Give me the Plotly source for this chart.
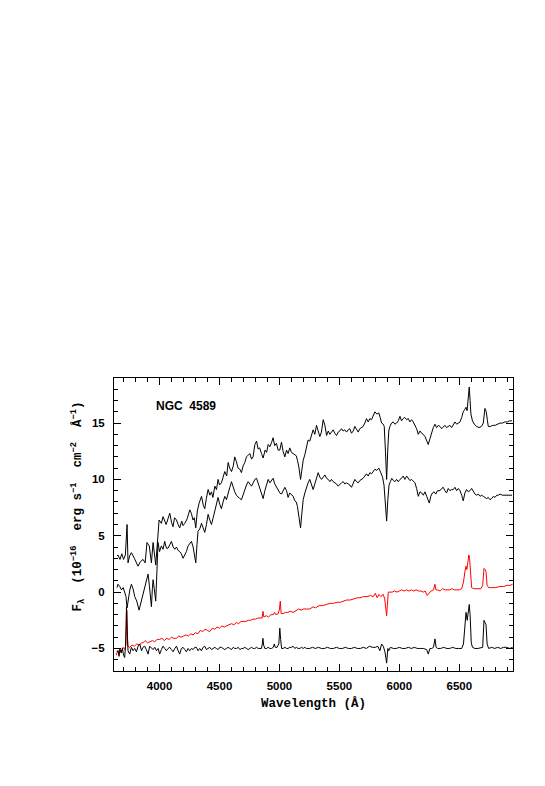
import plotly.graph_objects as go

# upper spectrum (offset)
wave_a = [3645, 3653, 3670, 3685, 3700, 3715, 3729, 3737, 3750, 3765,
          3790, 3820, 3840, 3862, 3880, 3895, 3914, 3932, 3946, 3958,
          3968, 3985, 3996, 4015, 4029, 4055, 4070, 4085, 4100, 4112,
          4125, 4141, 4155, 4168, 4185, 4196, 4210, 4230, 4252, 4265,
          4279, 4290, 4302, 4315, 4330, 4350, 4365, 4377, 4390, 4405,
          4420, 4433, 4445, 4461, 4475, 4488, 4500, 4516, 4530, 4544,
          4560, 4572, 4585, 4600, 4615, 4627, 4640, 4655, 4670, 4683,
          4697, 4711, 4725, 4739, 4753, 4767, 4780, 4795, 4809, 4822,
          4835, 4850, 4864, 4880, 4893, 4906, 4920, 4935, 4947, 4960,
          4975, 4989, 5003, 5017, 5030, 5045, 5059, 5072, 5086, 5100,
          5114, 5128, 5140, 5150, 5162, 5176, 5187, 5198, 5212, 5225,
          5239, 5253, 5267, 5281, 5295, 5309, 5323, 5337, 5350, 5365,
          5379, 5393, 5407, 5420, 5434, 5448, 5462, 5476, 5490, 5504,
          5518, 5531, 5545, 5560, 5573, 5587, 5601, 5615, 5629, 5643,
          5657, 5670, 5684, 5698, 5712, 5726, 5740, 5754, 5768, 5782,
          5796, 5812, 5829, 5840, 5852, 5866, 5874, 5884, 5894, 5904,
          5912, 5921, 5935, 5949, 5963, 5977, 5991, 6005, 6018, 6032,
          6045, 6061, 6075, 6088, 6102, 6116, 6130, 6144, 6158, 6172,
          6186, 6200, 6214, 6228, 6241, 6255, 6269, 6283, 6297, 6311,
          6325, 6339, 6353, 6366, 6380, 6394, 6408, 6422, 6436, 6450,
          6464, 6478, 6492, 6506, 6520, 6533, 6545, 6556, 6565, 6575,
          6583, 6590, 6597, 6610, 6625, 6645, 6665, 6685, 6700, 6714,
          6725, 6735, 6742, 6760, 6780, 6800, 6820, 6839, 6860, 6880,
          6900, 6920, 6940]
flux_a = [3.2, 3.3, 2.9, 3.4, 2.9, 3.3, 6.0, 2.6, 3.2, 3.5,
          3.0, 2.3, 2.7, 2.9, 2.6, 4.4, 4.1, 2.6, 4.4, 3.3,
          2.4, 4.8, 6.4, 6.1, 6.7, 6.0, 6.6, 7.0, 6.2, 5.8,
          6.6, 6.4, 6.0, 5.7, 6.3, 5.9, 6.1, 6.5, 7.3, 7.0,
          6.4, 6.6, 5.7, 7.2, 7.9, 8.5, 7.7, 7.4, 8.3, 9.1,
          8.6, 8.9, 8.4, 9.4, 9.1, 10.0, 9.5, 9.7, 10.2, 10.7,
          10.3, 11.5, 11.0, 10.7, 11.2, 12.0, 11.6, 11.0, 10.9, 10.6,
          11.2, 11.5, 12.0, 12.2, 12.3, 11.8, 12.0, 13.1, 13.4, 12.7,
          12.8, 12.3, 11.9, 12.6, 12.4, 13.1, 12.9, 13.3, 13.7, 13.0,
          13.2, 12.6, 12.6, 13.3, 12.5, 12.0, 12.6, 12.3, 12.8, 12.4,
          12.3, 12.2, 12.1, 11.7, 11.1, 10.0, 11.0, 11.7, 12.2, 12.9,
          13.5, 13.4, 13.9, 14.4, 14.0, 14.8, 14.3, 13.8, 14.2, 15.3,
          14.8, 13.9, 14.3, 14.0, 14.2, 14.4, 14.1, 13.9, 14.2, 14.3,
          14.5, 14.3, 14.4, 14.2, 14.4, 14.5, 14.1, 14.3, 14.7, 14.4,
          14.2, 14.5, 14.6, 14.7, 15.0, 15.4, 15.1, 15.4, 15.3, 15.6,
          16.0, 15.8, 15.9, 15.5, 15.0, 14.9, 14.7, 12.5, 10.0, 12.8,
          14.3, 14.7, 15.0, 15.1, 14.9, 15.0, 15.2, 15.6, 15.2, 15.4,
          15.5, 15.3, 15.4, 15.1, 15.3, 15.1, 14.8, 14.5, 14.0, 14.3,
          14.1, 14.0, 13.8, 13.5, 13.1, 13.6, 14.2, 14.6, 14.9, 14.6,
          14.8, 14.7, 14.5, 14.7, 14.8, 14.6, 14.7, 14.8, 14.6, 14.9,
          15.1, 14.9, 15.0, 15.1, 15.5, 16.0, 16.2, 16.4, 16.1, 17.0,
          18.2, 17.0, 15.8, 15.2, 14.9, 14.7, 14.6, 14.7, 15.0, 16.3,
          16.0, 15.2, 14.7, 14.7, 14.8, 14.8, 14.9, 15.0, 15.0, 15.1,
          15.1, 15.2, 15.2]

# second spectrum
wave_b = [3645, 3653, 3668, 3682, 3697, 3710, 3720, 3729, 3740, 3752,
          3765, 3779, 3793, 3810, 3829, 3845, 3862, 3876, 3890, 3904,
          3915, 3925, 3932, 3940, 3946, 3957, 3968, 3978, 3987, 4000,
          4015, 4029, 4043, 4057, 4071, 4085, 4099, 4113, 4127, 4141,
          4155, 4168, 4182, 4196, 4210, 4224, 4238, 4252, 4266, 4280,
          4290, 4302, 4312, 4321, 4335, 4350, 4363, 4377, 4391, 4405,
          4419, 4433, 4447, 4461, 4475, 4488, 4502, 4516, 4530, 4544,
          4558, 4572, 4586, 4600, 4614, 4627, 4641, 4655, 4669, 4683,
          4697, 4711, 4725, 4739, 4753, 4767, 4781, 4795, 4809, 4822,
          4836, 4850, 4864, 4878, 4892, 4906, 4920, 4934, 4947, 4961,
          4975, 4989, 5003, 5017, 5031, 5045, 5059, 5072, 5086, 5100,
          5114, 5128, 5140, 5150, 5162, 5176, 5187, 5198, 5212, 5225,
          5239, 5253, 5267, 5281, 5295, 5309, 5323, 5337, 5351, 5365,
          5379, 5393, 5407, 5421, 5434, 5448, 5462, 5476, 5490, 5504,
          5518, 5532, 5545, 5559, 5573, 5587, 5601, 5615, 5629, 5643,
          5657, 5670, 5684, 5698, 5712, 5726, 5740, 5754, 5768, 5782,
          5796, 5812, 5829, 5845, 5860, 5872, 5884, 5894, 5904, 5914,
          5925, 5937, 5950, 5963, 5977, 5991, 6005, 6018, 6032, 6046,
          6061, 6075, 6088, 6102, 6116, 6130, 6144, 6158, 6172, 6186,
          6200, 6214, 6228, 6241, 6250, 6262, 6276, 6290, 6304, 6318,
          6339, 6353, 6366, 6380, 6394, 6408, 6422, 6436, 6450, 6464,
          6478, 6492, 6506, 6520, 6533, 6547, 6561, 6575, 6589, 6603,
          6617, 6631, 6645, 6659, 6673, 6687, 6700, 6714, 6728, 6742,
          6756, 6770, 6784, 6798, 6812, 6826, 6840, 6860, 6880, 6900,
          6920, 6940]
flux_b = [0.4, 0.7, 0.5, 0.2, 0.4, 0.0, -0.4, -1.4, -0.6, 0.2,
          0.7, 0.3, -0.4, -0.8, -1.6, -0.9, -0.3, 0.2, 0.9, 1.6,
          0.6, -0.8, -1.3, 0.3, 1.1, 0.2, -0.8, 1.8, 4.4, 3.6,
          4.1, 3.8, 4.5, 3.9, 3.9, 4.2, 4.5, 4.0, 3.8, 4.0,
          3.7, 3.6, 3.4, 3.0, 3.3, 3.6, 4.1, 4.3, 4.5, 4.0,
          3.3, 2.6, 4.2, 5.4, 5.6, 6.1, 5.7, 5.3, 6.0, 6.9,
          6.4, 6.0, 6.6, 7.3, 7.8, 8.4, 7.8, 7.4, 8.0, 8.5,
          8.2, 8.9, 9.3, 9.8, 9.3, 8.9, 8.6, 8.4, 8.3, 8.2,
          8.7, 9.1, 9.5, 9.8, 9.6, 9.4, 9.7, 10.0, 10.1, 9.7,
          9.3, 8.8, 8.3, 9.0, 9.5, 10.0, 9.7, 9.9, 10.1, 9.6,
          9.3, 9.1, 8.8, 8.7, 9.0, 9.3, 9.0, 8.4, 8.8, 8.6,
          8.5, 8.1, 8.0, 7.6, 6.8, 5.7, 7.0, 8.2, 8.8, 9.3,
          9.7, 10.0, 9.6, 9.1, 9.6, 10.2, 10.6, 10.2, 10.0, 10.2,
          10.4, 10.1, 10.0, 9.8, 10.0, 9.8, 9.7, 9.6, 9.4, 9.6,
          9.7, 9.8, 9.6, 9.7, 9.6, 9.5, 9.3, 9.7, 10.0, 9.8,
          9.7, 9.9, 10.0, 10.1, 10.3, 10.5, 10.3, 10.6, 10.5, 10.7,
          10.9, 10.8, 11.0, 10.6, 10.2, 9.5, 8.0, 6.3, 8.2, 9.5,
          9.8, 10.1, 9.9, 9.8, 10.0, 9.8, 10.0, 10.1, 10.3, 10.0,
          10.3, 10.1, 9.9, 10.0, 9.8, 9.7, 9.2, 8.5, 8.9, 8.8,
          8.6, 8.9, 8.5, 8.2, 7.9, 8.5, 8.8, 8.9, 8.7, 9.0,
          9.0, 9.2, 9.3, 9.0, 8.8, 9.2, 9.0, 9.1, 9.1, 9.3,
          9.0, 9.2, 9.0, 8.6, 8.1, 8.8, 9.1, 8.9, 9.0, 9.2,
          8.9, 8.7, 8.6, 8.7, 8.5, 8.6, 8.5, 8.4, 8.3, 8.4,
          8.2, 8.3, 8.5, 8.4, 8.6, 8.6, 8.7, 8.6, 8.6, 8.6,
          8.6, 8.6]

# red spectrum
wave_c = [3640, 3650, 3660, 3668, 3680, 3695, 3710, 3720, 3727, 3735,
          3751, 3770, 3790, 3810, 3830, 3850, 3862, 3880, 3900, 3920,
          3940, 3960, 3980, 4001, 4020, 4040, 4060, 4080, 4100, 4120,
          4141, 4160, 4180, 4200, 4220, 4240, 4260, 4279, 4300, 4320,
          4340, 4360, 4380, 4400, 4419, 4440, 4460, 4480, 4500, 4520,
          4540, 4558, 4580, 4600, 4620, 4640, 4660, 4680, 4697, 4720,
          4740, 4760, 4780, 4800, 4820, 4840, 4855, 4862, 4870, 4890,
          4910, 4930, 4950, 4959, 4970, 4990, 5000, 5007, 5014, 5030,
          5050, 5070, 5090, 5114, 5140, 5160, 5180, 5200, 5225, 5253,
          5280, 5300, 5330, 5360, 5390, 5420, 5450, 5480, 5510, 5531,
          5560, 5590, 5620, 5650, 5671, 5700, 5730, 5760, 5782, 5800,
          5815, 5830, 5845, 5865, 5878, 5888, 5894, 5900, 5908, 5920,
          5940, 5960, 5980, 6000, 6020, 6040, 6060, 6080, 6100, 6120,
          6140, 6160, 6180, 6200, 6215, 6232, 6245, 6265, 6285, 6297,
          6305, 6320, 6340, 6360, 6380, 6400, 6420, 6440, 6460, 6480,
          6500, 6520, 6535, 6548, 6556, 6563, 6570, 6580, 6586, 6595,
          6603, 6620, 6640, 6660, 6680, 6695, 6706, 6715, 6723, 6732,
          6745, 6770, 6800, 6839, 6870, 6900, 6925, 6945]
flux_c = [-5.6, -5.2, -5.4, -5.0, -5.3, -4.9, -5.1, -4.6, -1.6, -4.8,
          -4.9, -4.7, -4.8, -4.6, -4.7, -4.5, -4.5, -4.3, -4.5, -4.4,
          -4.3, -4.4, -4.2, -4.2, -4.1, -4.3, -4.1, -4.2, -4.0, -4.1,
          -4.1, -3.9, -4.0, -3.9, -3.8, -3.9, -3.7, -3.8, -3.6, -3.7,
          -3.4, -3.5, -3.3, -3.4, -3.5, -3.2, -3.3, -3.1, -3.2, -3.0,
          -3.1, -3.0, -2.9, -2.8, -2.9, -2.7, -2.8, -2.6, -2.6, -2.6,
          -2.5, -2.5, -2.4, -2.4, -2.3, -2.3, -2.3, -1.7, -2.2, -2.1,
          -2.2, -2.0, -2.0, -1.8, -2.0, -1.9, -1.5, -0.8, -1.9, -1.9,
          -1.8, -1.8, -1.7, -1.8, -1.6, -1.5, -1.6, -1.5, -1.5, -1.5,
          -1.3, -1.4, -1.2, -1.2, -1.1, -1.0, -1.0, -0.9, -0.9, -0.8,
          -0.7, -0.7, -0.6, -0.5, -0.5, -0.4, -0.4, -0.3, -0.4, -0.1,
          -0.5, -0.2, -0.4, -0.2, -0.6, -2.0, -2.1, -1.2, 0.0, 0.0,
          0.0, 0.1, 0.0, 0.1, 0.2, 0.1, 0.2, 0.1, 0.2, 0.1,
          0.2, 0.1, 0.1, 0.0, 0.1, -0.3, -0.1, 0.1, 0.2, 0.7,
          0.2, 0.2, 0.1, 0.3, 0.2, 0.2, 0.2, 0.3, 0.2, 0.2,
          0.2, 0.3, 0.9, 1.9, 2.3, 2.0, 2.6, 3.3, 3.0, 1.0,
          0.4, 0.3, 0.3, 0.3, 0.3, 0.6, 2.1, 2.0, 1.8, 0.6,
          0.4, 0.4, 0.4, 0.5, 0.5, 0.6, 0.6, 0.7]

# lower (emission-line) spectrum
wave_d = [3645, 3653, 3662, 3670, 3680, 3690, 3700, 3709, 3716, 3724,
          3730, 3737, 3751, 3765, 3779, 3793, 3807, 3821, 3835, 3849,
          3862, 3876, 3890, 3904, 3918, 3932, 3946, 3960, 3974, 3988,
          4001, 4015, 4029, 4043, 4057, 4071, 4085, 4099, 4113, 4127,
          4141, 4155, 4168, 4182, 4196, 4210, 4224, 4238, 4252, 4266,
          4280, 4294, 4307, 4321, 4335, 4349, 4363, 4377, 4391, 4405,
          4419, 4433, 4447, 4461, 4474, 4488, 4502, 4516, 4530, 4544,
          4558, 4572, 4586, 4600, 4614, 4628, 4642, 4656, 4670, 4684,
          4697, 4711, 4725, 4739, 4753, 4767, 4781, 4795, 4809, 4823,
          4837, 4850, 4857, 4862, 4868, 4878, 4892, 4906, 4920, 4934,
          4948, 4957, 4965, 4980, 4995, 5003, 5010, 5018, 5031, 5045,
          5059, 5072, 5086, 5100, 5114, 5128, 5142, 5156, 5170, 5184,
          5198, 5212, 5225, 5239, 5253, 5275, 5300, 5325, 5350, 5375,
          5400, 5425, 5450, 5475, 5500, 5525, 5550, 5575, 5600, 5625,
          5650, 5675, 5700, 5725, 5750, 5775, 5800, 5820, 5838, 5852,
          5866, 5880, 5894, 5904, 5912, 5925, 5950, 5975, 6000, 6025,
          6050, 6075, 6100, 6125, 6150, 6175, 6200, 6228, 6241, 6255,
          6270, 6285, 6297, 6307, 6320, 6345, 6370, 6395, 6420, 6445,
          6470, 6495, 6520, 6535, 6545, 6556, 6566, 6576, 6583, 6590,
          6600, 6610, 6630, 6655, 6680, 6695, 6706, 6716, 6723, 6732,
          6745, 6770, 6795, 6820, 6845, 6870, 6895, 6920, 6945]
flux_d = [-5.3, -5.2, -5.7, -5.1, -5.4, -5.0, -5.6, -5.8, -4.8, -1.3,
          -3.5, -5.2, -5.5, -4.9, -5.2, -5.0, -5.3, -4.8, -4.6, -5.2,
          -4.9, -4.8, -5.1, -5.5, -4.8, -5.0, -5.1, -4.9, -5.2, -5.0,
          -5.5, -5.1, -4.8, -5.0, -5.2, -5.0, -4.9, -5.1, -5.3, -5.0,
          -4.8, -5.2, -5.5, -5.0, -4.9, -5.1, -5.3, -5.0, -5.2, -5.0,
          -5.1, -4.9, -4.9, -5.2, -5.0, -5.2, -4.9, -4.8, -5.1, -5.0,
          -4.9, -5.1, -5.0, -4.9, -5.0, -5.1, -4.9, -4.9, -5.0, -5.1,
          -5.0, -4.9, -5.0, -5.1, -4.9, -5.0, -5.0, -4.9, -5.1, -5.0,
          -5.0, -4.9, -5.0, -5.1, -5.0, -4.9, -5.0, -5.0, -4.9, -5.0,
          -5.0, -5.0, -4.6, -4.1, -4.7, -5.0, -5.0, -4.9, -5.0, -5.0,
          -4.9, -4.6, -4.9, -4.9, -4.6, -3.2, -4.2, -5.0, -5.0, -4.9,
          -5.0, -5.0, -4.9, -4.9, -4.8, -5.0, -4.9, -5.0, -5.0, -4.9,
          -5.0, -4.9, -5.0, -5.0, -5.0, -4.9, -5.0, -4.9, -5.0, -5.0,
          -4.9, -5.0, -5.0, -4.9, -5.0, -5.0, -4.9, -5.0, -5.0, -4.9,
          -5.0, -5.0, -4.9, -5.0, -4.8, -4.9, -4.9, -4.8, -5.2, -4.6,
          -4.8, -5.3, -6.3, -5.0, -5.2, -4.9, -5.0, -5.0, -4.9, -5.0,
          -5.0, -4.9, -5.0, -4.9, -5.0, -5.0, -5.0, -5.1, -5.5, -5.0,
          -5.0, -4.9, -4.15, -4.9, -5.0, -5.0, -4.9, -5.0, -5.0, -4.9,
          -5.0, -5.0, -5.0, -4.6, -3.0, -1.8, -2.5, -1.6, -1.1, -2.0,
          -4.5, -4.9, -5.0, -5.0, -4.9, -4.9, -2.5, -2.7, -2.9, -4.6,
          -5.0, -4.9, -5.0, -4.9, -5.0, -4.9, -4.9, -5.0, -4.9]

x_range = [3620, 6948]
y_range = [-7, 19]

assert len(wave_a) == len(flux_a)
assert len(wave_b) == len(flux_b)
assert len(wave_c) == len(flux_c)
assert len(wave_d) == len(flux_d)

fig = go.Figure()

# red one first so the black lines sit on top
fig.add_trace(go.Scatter(x=wave_c, y=flux_c, mode="lines",
                         line=dict(color="#ff0000", width=1)))
for w, f in [(wave_a, flux_a), (wave_b, flux_b), (wave_d, flux_d)]:
    fig.add_trace(go.Scatter(x=w, y=f, mode="lines",
                             line=dict(color="black", width=1)))

# galaxy name inside the frame
fig.add_annotation(x=3954, y=16.56, xref="x", yref="y", text="<b>NGC\u00a0\u00a04589</b>",
                   showarrow=False, xanchor="left", yanchor="middle",
                   font=dict(family="Liberation Sans", size=12, color="black"))

# y label as a rotated annotation, it sits a bit above the axis middle in the original
sp1 = "\u00a0"
sp2 = "\u00a0\u00a0"
ytitle = ("<b>F<sub>λ</sub>" + sp2 + "(10<sup>−16</sup>" + sp2 + "erg" + sp1
          + "s<sup>−1</sup>" + sp2 + "cm<sup>−2</sup>" + sp2 + "Å<sup>−1</sup>)</b>")
fig.add_annotation(x=-0.091, y=0.56, xref="paper", yref="paper", text=ytitle,
                   showarrow=False, textangle=-90, xanchor="center", yanchor="middle",
                   font=dict(family="Liberation Mono", size=12.5, color="black"))

axis_style = dict(showline=True, linecolor="black", linewidth=1, mirror="allticks",
                  ticks="inside", ticklen=7, tickwidth=1, tickcolor="black",
                  showgrid=False, zeroline=False,
                  tickfont=dict(family="Liberation Sans", size=11.5, color="black",
                                weight="bold"))

fig.update_xaxes(range=x_range, tick0=4000, dtick=500, ticklabelstandoff=4,
                 minor=dict(ticks="inside", ticklen=4, dtick=100, tick0=4000,
                            tickcolor="black", showgrid=False),
                 title=dict(text="<b>Wavelength (Å)</b>", standoff=7,
                            font=dict(family="Liberation Mono", size=12.5, color="black")),
                 **axis_style)
fig.update_yaxes(range=y_range, tick0=0, dtick=5, ticklabelstandoff=6,
                 minor=dict(ticks="inside", ticklen=4, dtick=1, tick0=0,
                            tickcolor="black", showgrid=False),
                 **axis_style)

# the page adds an 8 px body margin, so the margins are set 8 px smaller on the left/top
fig.update_layout(width=545, height=786, showlegend=False,
                  margin=dict(l=106, r=40, t=370, b=123),
                  plot_bgcolor="white", paper_bgcolor="white")

fig.write_html("out.html")
